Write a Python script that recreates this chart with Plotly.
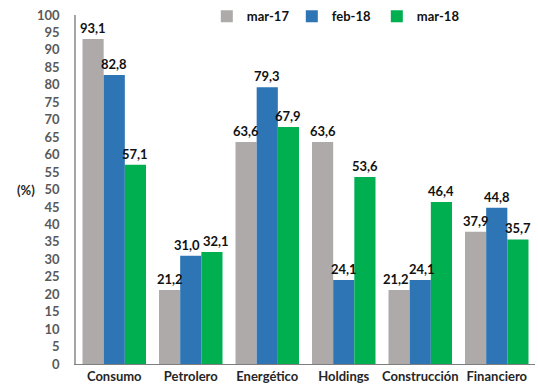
import plotly.graph_objects as go

categories = ["Consumo", "Petrolero", "Energético", "Holdings", "Construcción", "Financiero"]
mar17 = [93.1, 21.2, 63.6, 63.6, 21.2, 37.9]
feb18 = [82.8, 31.0, 79.3, 24.1, 24.1, 44.8]
mar18 = [57.1, 32.1, 67.9, 53.6, 46.4, 35.7]
y_ticks = list(range(0, 101, 5))

series = [
    ("mar-17", mar17, "#AEAAAA"),
    ("feb-18", feb18, "#2E75B6"),
    ("mar-18", mar18, "#00B050"),
]

FONT = "Lato, 'Open Sans', sans-serif"
WIDTH, HEIGHT = 538, 387
MARGIN = dict(l=76, r=3, t=15, b=23)
BARGAP = 0.17

# pixel width of one bar, used to place value labels over their bars
plot_w = WIDTH - MARGIN["l"] - MARGIN["r"]
bar_px = plot_w / len(categories) * (1 - BARGAP) / len(series)
# small sideways nudges for neighbouring labels that would collide
nudge = {("feb-18", "Petrolero"): -4, ("mar-18", "Petrolero"): 4,
         ("mar-17", "Construcción"): -3, ("feb-18", "Construcción"): 2}

fig = go.Figure()
for j, (name, vals, color) in enumerate(series):
    fig.add_trace(go.Bar(
        x=categories, y=vals, name=name,
        marker=dict(color=color, line=dict(width=0)),
    ))
    for cat, v in zip(categories, vals):
        fig.add_annotation(
            x=cat, y=v, xref="x", yref="y",
            text=f"{v:.1f}".replace(".", ","),
            showarrow=False, xanchor="center", yanchor="bottom",
            xshift=(j - 1) * bar_px + nudge.get((name, cat), 0), yshift=1,
            font=dict(family=FONT, size=13, color="#111111", weight="bold"),
        )

fig.update_layout(
    width=WIDTH, height=HEIGHT,
    margin=dict(**MARGIN, autoexpand=False),
    paper_bgcolor="white", plot_bgcolor="white",
    barmode="group", bargap=BARGAP, bargroupgap=0,
    font=dict(family=FONT),
    showlegend=True,
    legend=dict(
        orientation="h", x=0.285, xanchor="left", y=1.039, yanchor="top",
        font=dict(family=FONT, size=13, color="#111111", weight="bold"),
        entrywidth=40, entrywidthmode="pixels",
        itemwidth=30, traceorder="normal",
        bgcolor="rgba(0,0,0,0)",
    ),
)
fig.update_yaxes(
    range=[0, 100], tickvals=y_ticks,
    showgrid=False, zeroline=False,
    showline=True, linecolor="#A6A6A6", linewidth=1.5,
    ticks="", ticklabelstandoff=12,
    tickfont=dict(family=FONT, size=13, color="#595959", weight="bold"),
)
fig.update_xaxes(
    showgrid=False, showline=True, linecolor="#7F7F7F", linewidth=1,
    ticks="",
    tickfont=dict(family=FONT, size=13, color="#262626", weight="bold"),
)
fig.add_annotation(
    text="(%)", xref="paper", yref="paper", x=-0.108, y=0.5,
    xanchor="center", yanchor="middle", showarrow=False,
    font=dict(family=FONT, size=13, color="#262626", weight="bold"),
)

fig.write_html("out.html")
